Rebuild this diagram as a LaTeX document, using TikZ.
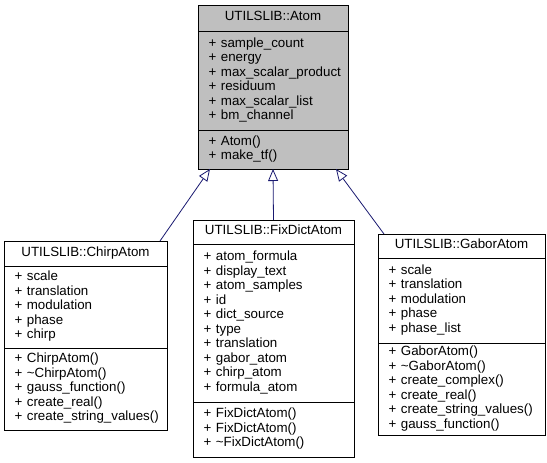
\documentclass[tikz,border=0pt]{standalone}
\usepackage{fontspec}
\setmainfont{Liberation Sans}
\usetikzlibrary{positioning,arrows.meta}
\definecolor{edgeblue}{HTML}{191970}
\definecolor{basegray}{HTML}{BFBFBF}
\newcommand{\member}[1]{\mbox{\strut\hspace*{2pt}+ #1}}

\begin{document}
\begin{tikzpicture}[x=0.75pt,y=-0.75pt,
  every node/.style={font=\fontsize{10}{10.9}\selectfont, outer sep=0pt},
  clsfield/.style={draw=black, line width=0.6pt, fill=white, inner xsep=6pt, inner ysep=0pt, align=left},
  clshead/.style={clsfield, align=center},
  inherit/.style={draw=edgeblue, line width=0.6pt, -{Triangle[open, length=9pt, width=7.5pt, fill=white]}}]
\useasboundingbox (0,0) rectangle (547,463);

% base class
\node[clshead, fill=basegray, text width=100.5pt, minimum height=19.5pt, anchor=north] (atom) at (273,5) {\strut UTILSLIB::Atom};
\node[clsfield, fill=basegray, text width=100.5pt, minimum height=74.25pt, below=0pt of atom] (atom attrs)
  {\member{sample\_count}\\ \member{energy}\\ \member{max\_scalar\_product}\\ \member{residuum}\\ \member{max\_scalar\_list}\\ \member{bm\_channel}};
\node[clsfield, fill=basegray, text width=100.5pt, minimum height=29.25pt, below=0pt of atom attrs] (atom ops)
  {\member{Atom()}\\ \member{make\_tf()}};

% derived classes
\node[clshead, text width=110.25pt, minimum height=18.75pt, anchor=north] (chirp) at (85.5,241) {\strut UTILSLIB::ChirpAtom};
\node[clsfield, text width=110.25pt, minimum height=61.5pt, below=0pt of chirp] (chirp attrs)
  {\member{scale}\\ \member{translation}\\ \member{modulation}\\ \member{phase}\\ \member{chirp}};
\node[clsfield, text width=110.25pt, minimum height=61.5pt, below=0pt of chirp attrs] (chirp ops)
  {\member{ChirpAtom()}\\ \member{\textasciitilde ChirpAtom()}\\ \member{gauss\_function()}\\ \member{create\_real()}\\ \member{create\_string\_values()}};

\node[clshead, text width=108.75pt, minimum height=18pt, anchor=north] (fixdict) at (273.5,220) {\strut UTILSLIB::FixDictAtom};
\node[clsfield, text width=108.75pt, minimum height=118.5pt, below=0pt of fixdict] (fixdict attrs)
  {\member{atom\_formula}\\ \member{display\_text}\\ \member{atom\_samples}\\ \member{id}\\ \member{dict\_source}\\ \member{type}\\ \member{translation}\\ \member{gabor\_atom}\\ \member{chirp\_atom}\\ \member{formula\_atom}};
\node[clsfield, text width=108.75pt, minimum height=41.25pt, below=0pt of fixdict attrs] (fixdict ops)
  {\member{FixDictAtom()}\\ \member{FixDictAtom()}\\ \member{\textasciitilde FixDictAtom()}};

\node[clshead, text width=113.25pt, minimum height=18pt, anchor=north] (gabor) at (461.5,234) {\strut UTILSLIB::GaborAtom};
\node[clsfield, text width=113.25pt, minimum height=63.75pt, below=0pt of gabor] (gabor attrs)
  {\member{scale}\\ \member{translation}\\ \member{modulation}\\ \member{phase}\\ \member{phase\_list}};
\node[clsfield, text width=113.25pt, minimum height=69pt, below=0pt of gabor attrs] (gabor ops)
  {\member{GaborAtom()}\\ \member{\textasciitilde GaborAtom()}\\ \member{create\_complex()}\\ \member{create\_real()}\\ \member{create\_string\_values()}\\ \member{gauss\_function()}};

% inheritance
\draw[inherit] ([xshift=-5.25pt]chirp.north east) -- ([xshift=9pt]atom ops.south west);
\draw[inherit] (fixdict.north) -- (atom ops.south);
\draw[inherit] ([xshift=4.5pt]gabor.north west) -- ([xshift=-9pt]atom ops.south east);
\end{tikzpicture}
\end{document}
